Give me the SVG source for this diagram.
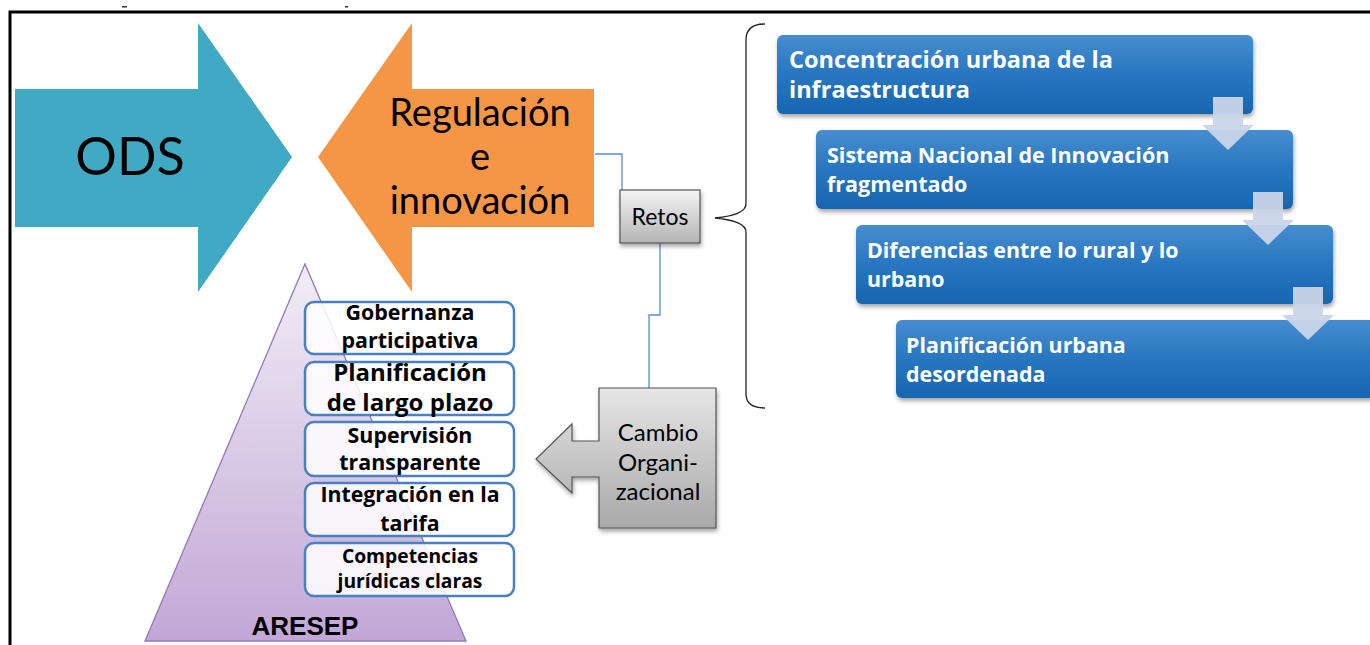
<svg xmlns="http://www.w3.org/2000/svg" width="1370" height="645" viewBox="0 0 1370 645">
<defs>
<linearGradient id="gBlue" x1="0" y1="0" x2="0" y2="1">
<stop offset="0" stop-color="#478dcf"/><stop offset="0.5" stop-color="#2876c0"/><stop offset="1" stop-color="#1766b0"/>
</linearGradient>
<linearGradient id="gGray" x1="0" y1="0" x2="0" y2="1">
<stop offset="0" stop-color="#f4f4f4"/><stop offset="1" stop-color="#b4b4b4"/>
</linearGradient>
<linearGradient id="gGray2" x1="0" y1="0" x2="0" y2="1">
<stop offset="0" stop-color="#e6e6e6"/><stop offset="1" stop-color="#a8a8a8"/>
</linearGradient>
<linearGradient id="gTri" x1="0" y1="0" x2="0" y2="1">
<stop offset="0" stop-color="#f2edf6"/><stop offset="1" stop-color="#c2a7d6"/>
</linearGradient>
<filter id="sh" x="-10%" y="-10%" width="120%" height="130%">
<feDropShadow dx="1" dy="3" stdDeviation="2" flood-color="#000" flood-opacity="0.35"/>
</filter>
<style>
.big{font-family:Lato,"Open Sans",sans-serif;fill:#000}
.wt{font-family:"Open Sans",Lato,sans-serif;font-weight:bold;fill:#fff}
.pb{font-family:"Open Sans",Lato,sans-serif;font-weight:bold;fill:#000;text-anchor:middle}
.conn{fill:none;stroke:#5b8ccc;stroke-width:1.3}
.bbox{fill:url(#gBlue);filter:url(#sh)}
.darr{fill:#c9d5e8;fill-opacity:0.95}
.wbox{fill:#fff;fill-opacity:0.85;stroke:#4a80c2;stroke-width:2.5}
</style>
</defs>
<rect width="1370" height="645" fill="#fff"/>
<g id="frame">
<path d="M10,645 L10,12 L1372,12" fill="none" stroke="#000" stroke-width="3"/>
<rect x="122" y="6" width="5" height="1.5" fill="#333"/>
<rect x="345" y="6" width="3" height="1.5" fill="#333"/>
</g>
<g id="ods">
<polygon points="15,89 198,89 198,23 292,157 198,292 198,227 15,227" fill="#40a9c4"/>
<text class="big" x="130" y="175" font-size="52" text-anchor="middle">ODS</text>
</g>
<g id="regulacion">
<polygon points="594,89 412,89 412,23 318,157 412,292 412,227 594,227" fill="#f59646"/>
<text class="big" x="480" y="126" font-size="38" text-anchor="middle">Regulación</text>
<text class="big" x="480" y="170" font-size="38" text-anchor="middle">e</text>
<text class="big" x="480" y="214" font-size="38" text-anchor="middle">innovación</text>
</g>
<g id="connectors">
<path class="conn" d="M595,154 H622 V190"/>
<path class="conn" d="M660,243 V315 H649 V388"/>
<path d="M765,24 Q746,24 746,40 L746,204 Q746,215 715,218 Q746,221 746,232 L746,394 Q746,408 765,408" fill="none" stroke="#222" stroke-width="1.3"/>
</g>
<g id="retos">
<rect x="620" y="190" width="80" height="53" fill="url(#gGray)" stroke="#555" stroke-width="1.2" filter="url(#sh)"/>
<text class="big" x="660" y="225" font-size="23" text-anchor="middle">Retos</text>
</g>
<g id="b1">
<rect class="bbox" x="777" y="35" width="476" height="79" rx="6"/>
<text class="wt" x="789" y="68" font-size="23.5">Concentración urbana de la</text>
<text class="wt" x="789" y="98" font-size="23.5">infraestructura</text>
</g>
<g id="b2">
<rect class="bbox" x="816" y="130" width="477" height="79" rx="6"/>
<text class="wt" x="827" y="163" font-size="21.5">Sistema Nacional de Innovación</text>
<text class="wt" x="827" y="192" font-size="21.5">fragmentado</text>
</g>
<g id="b3">
<rect class="bbox" x="856" y="225" width="477" height="79" rx="6"/>
<text class="wt" x="867" y="258" font-size="21.4">Diferencias entre lo rural y lo</text>
<text class="wt" x="867" y="287" font-size="21.4">urbano</text>
</g>
<g id="b4">
<rect class="bbox" x="896" y="320" width="480" height="78" rx="6"/>
<text class="wt" x="906" y="353" font-size="21.4">Planificación urbana</text>
<text class="wt" x="906" y="382" font-size="21.4">desordenada</text>
</g>
<g id="downarrows">
<polygon class="darr" points="1213,97 1243,97 1243,125 1254,125 1228,150 1202,125 1213,125"/>
<polygon class="darr" points="1253,192 1283,192 1283,220 1294,220 1268,245 1242,220 1253,220"/>
<polygon class="darr" points="1293,287 1323,287 1323,315 1334,315 1308,340 1282,315 1293,315"/>
</g>
<g id="aresep">
<polygon points="305,264 466,641 145,641" fill="url(#gTri)" stroke="#9378b6" stroke-width="1.3"/>
<text x="305" y="635" font-family="'Liberation Sans',Arial,sans-serif" font-weight="bold" font-size="26" text-anchor="middle" fill="#000">ARESEP</text>
</g>
<g id="p1">
<rect class="wbox" x="305" y="302" width="209" height="52" rx="9"/>
<text class="pb" x="410" y="320" font-size="21.4">Gobernanza</text>
<text class="pb" x="410" y="348" font-size="21.4">participativa</text>
</g>
<g id="p2">
<rect class="wbox" x="305" y="362" width="209" height="53" rx="9"/>
<text class="pb" x="410" y="381" font-size="24">Planificación</text>
<text class="pb" x="410" y="411" font-size="24">de largo plazo</text>
</g>
<g id="p3">
<rect class="wbox" x="305" y="422" width="209" height="54" rx="9"/>
<text class="pb" x="410" y="443" font-size="21.4">Supervisión</text>
<text class="pb" x="410" y="470" font-size="21.4">transparente</text>
</g>
<g id="p4">
<rect class="wbox" x="305" y="483" width="209" height="53" rx="9"/>
<text class="pb" x="410" y="502" font-size="21.3">Integración en la</text>
<text class="pb" x="410" y="531" font-size="21.3">tarifa</text>
</g>
<g id="p5">
<rect class="wbox" x="305" y="543" width="209" height="53" rx="9"/>
<text class="pb" x="410" y="563" font-size="19.3">Competencias</text>
<text class="pb" x="410" y="588" font-size="19.3">jurídicas claras</text>
</g>
<g id="cambio">
<polygon points="599,388 716,388 716,528 599,528 599,477 572,477 572,493 536,459 572,424 572,441 599,441" fill="url(#gGray2)" stroke="#555" stroke-width="1.2" filter="url(#sh)"/>
<text class="big" x="658" y="441" font-size="24" text-anchor="middle">Cambio</text>
<text class="big" x="658" y="471" font-size="24" text-anchor="middle">Organi-</text>
<text class="big" x="658" y="500" font-size="24" text-anchor="middle">zacional</text>
</g>
</svg>
